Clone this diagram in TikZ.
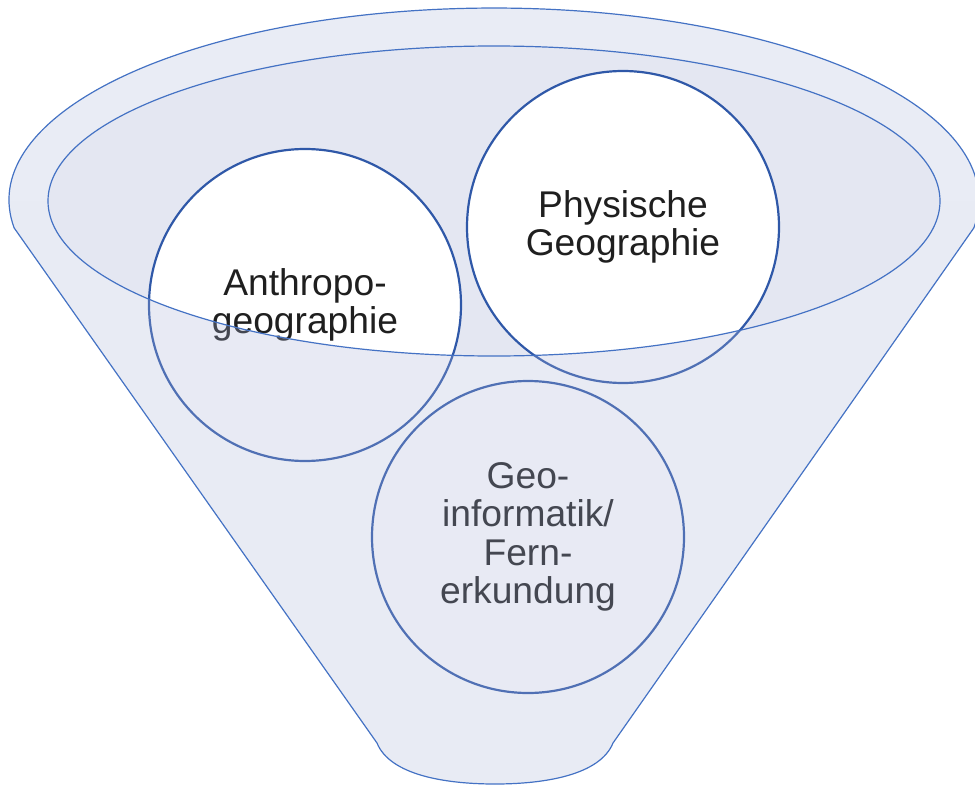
\documentclass[tikz,border=0pt]{standalone}
\usepackage{fontspec}
\setmainfont{Liberation Sans}
\usepackage{tikz}
\definecolor{rimfill}{RGB}{233,236,245}
\definecolor{mouthfill}{RGB}{228,231,242}
\definecolor{frontfill}{RGB}{170,180,216}
\definecolor{funnelline}{RGB}{68,114,196}
\definecolor{bubbleline}{RGB}{47,88,168}
\definecolor{bubbletext}{RGB}{31,31,31}
\tikzset{funnel/.style =
   {draw=funnelline,
    line width=0.6pt}}
\tikzset{bubble/.style =
   {circle,
    draw=bubbleline,
    line width=1.1pt,
    fill=white,
    text=bubbletext,
    align=center,
    minimum size=156pt,
    inner sep=0pt,
    font=\fontsize{18.6}{19.2}\selectfont}}
\tikzset{front/.style =
   {fill=frontfill,
    fill opacity=0.27}}
\def\funnelpath{(14.2,228) arc[start angle=171.62, end angle=368.38,
    x radius=485, y radius=192] -- (613,743)
    .. controls (600,775) and (545,784) .. (495,784)
    .. controls (445,784) and (390,775) .. (377,743) -- cycle}

\begin{document}
\begin{tikzpicture}[x=0.5pt, y=-0.5pt]

    \useasboundingbox (0,0) rectangle (975,787);

    % funnel back
    \begin{scope}
        \clip \funnelpath;
        \fill [rimfill] (0,0) rectangle (975,201);
    \end{scope}
    \fill [mouthfill] (494,201) ellipse [x radius=446, y radius=155];

    \node [bubble] (anthro) at (305,305) {Anthropo-\\geographie};
    \node [bubble] (physis) at (623,227) {Physische\\Geographie};
    \node [bubble] (geoinf) at (528,537) {Geo-\\informatik/\\Fern-\\erkundung};

    % funnel front
    \begin{scope}
        \clip \funnelpath;
        \fill [front] (0,201) -- (48,201)
            arc[start angle=180, end angle=0, x radius=446, y radius=155]
            -- (975,201) -- (975,790) -- (0,790) -- cycle;
    \end{scope}

    \draw [funnel] \funnelpath;
    \draw [funnel] (494,201) ellipse [x radius=446, y radius=155];

\end{tikzpicture}
\end{document}
